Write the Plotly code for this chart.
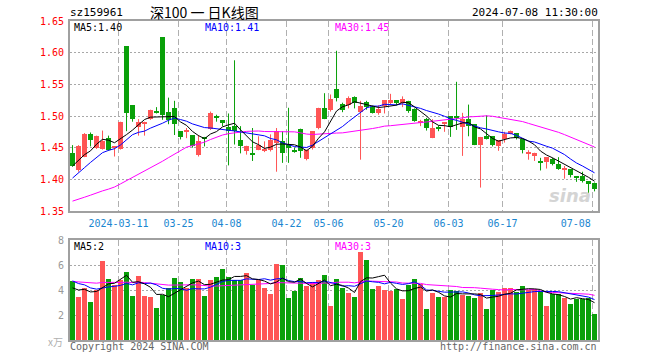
import plotly.graph_objects as go
import pandas as pd

# ---------------- data ----------------
holidays = ["2024-04-04", "2024-04-05", "2024-05-01", "2024-05-02", "2024-05-03", "2024-06-10"]
dates = [d.strftime("%Y-%m-%d") for d in pd.bdate_range("2024-02-28", "2024-07-08")
         if d.strftime("%Y-%m-%d") not in holidays]

opens = [1.442, 1.414, 1.436, 1.472, 1.449, 1.448, 1.465, 1.450, 1.448, 1.610,
         1.517, 1.482, 1.488, 1.495, 1.506, 1.624, 1.507, 1.513, 1.476, 1.475,
         1.470, 1.438, 1.467, 1.479, 1.500, 1.493, 1.482, 1.485, 1.462, 1.444,
         1.440, 1.447, 1.445, 1.446, 1.458, 1.460, 1.455, 1.446, 1.480, 1.432,
         1.449, 1.481, 1.513, 1.510, 1.542, 1.519, 1.517, 1.530, 1.507, 1.522,
         1.514, 1.504, 1.516, 1.520, 1.525, 1.520, 1.523, 1.511, 1.489, 1.496,
         1.466, 1.482, 1.488, 1.500, 1.499, 1.482, 1.496, 1.487, 1.454, 1.468,
         1.468, 1.453, 1.463, 1.472, 1.473, 1.463, 1.440, 1.437, 1.428, 1.428,
         1.432, 1.425, 1.415, 1.416, 1.404, 1.406, 1.397, 1.395]
highs = [1.454, 1.454, 1.473, 1.474, 1.469, 1.477, 1.469, 1.452, 1.491, 1.610,
         1.517, 1.495, 1.491, 1.510, 1.514, 1.624, 1.529, 1.524, 1.476, 1.481,
         1.470, 1.470, 1.467, 1.507, 1.502, 1.493, 1.504, 1.588, 1.484, 1.453,
         1.481, 1.468, 1.460, 1.471, 1.481, 1.476, 1.513, 1.450, 1.480, 1.447,
         1.476, 1.513, 1.536, 1.534, 1.603, 1.521, 1.531, 1.531, 1.524, 1.524,
         1.516, 1.517, 1.525, 1.535, 1.525, 1.531, 1.524, 1.512, 1.494, 1.497,
         1.495, 1.485, 1.490, 1.500, 1.554, 1.505, 1.518, 1.487, 1.467, 1.501,
         1.468, 1.462, 1.475, 1.477, 1.473, 1.463, 1.446, 1.442, 1.434, 1.435,
         1.434, 1.435, 1.421, 1.416, 1.404, 1.412, 1.397, 1.395]
lows = [1.420, 1.412, 1.435, 1.452, 1.448, 1.447, 1.445, 1.436, 1.447, 1.476,
        1.491, 1.469, 1.469, 1.494, 1.504, 1.494, 1.487, 1.470, 1.463, 1.465,
        1.450, 1.436, 1.452, 1.478, 1.491, 1.484, 1.422, 1.455, 1.441, 1.439,
        1.429, 1.446, 1.443, 1.444, 1.412, 1.426, 1.426, 1.442, 1.434, 1.430,
        1.447, 1.479, 1.495, 1.507, 1.523, 1.506, 1.512, 1.512, 1.431, 1.510,
        1.504, 1.502, 1.504, 1.519, 1.517, 1.514, 1.505, 1.491, 1.484, 1.477,
        1.465, 1.476, 1.475, 1.467, 1.478, 1.437, 1.468, 1.454, 1.387, 1.463,
        1.452, 1.445, 1.458, 1.471, 1.463, 1.441, 1.431, 1.429, 1.414, 1.417,
        1.422, 1.415, 1.401, 1.403, 1.396, 1.395, 1.377, 1.381]
closes = [1.421, 1.453, 1.472, 1.462, 1.469, 1.460, 1.446, 1.452, 1.491, 1.504,
          1.496, 1.490, 1.491, 1.510, 1.505, 1.501, 1.493, 1.487, 1.467, 1.478,
          1.453, 1.460, 1.463, 1.504, 1.497, 1.490, 1.476, 1.476, 1.452, 1.453,
          1.439, 1.454, 1.446, 1.462, 1.476, 1.441, 1.450, 1.444, 1.444, 1.447,
          1.476, 1.513, 1.495, 1.527, 1.528, 1.510, 1.528, 1.520, 1.516, 1.515,
          1.505, 1.511, 1.525, 1.525, 1.520, 1.527, 1.508, 1.492, 1.492, 1.481,
          1.481, 1.480, 1.490, 1.483, 1.497, 1.495, 1.484, 1.455, 1.467, 1.463,
          1.454, 1.462, 1.471, 1.477, 1.466, 1.446, 1.442, 1.442, 1.427, 1.435,
          1.424, 1.416, 1.416, 1.407, 1.403, 1.398, 1.392, 1.385]
volumes = [4.73, 3.45, 4.17, 3.05, 4.01, 6.34, 4.89, 4.41, 4.81, 5.45,
           3.53, 5.13, 3.53, 3.45, 2.57, 3.61, 4.17, 4.97, 4.65, 4.17,
           4.89, 4.89, 3.53, 4.81, 5.05, 5.70, 5.05, 4.81, 4.81, 5.37,
           4.41, 4.81, 4.17, 3.69, 6.10, 6.02, 3.37, 3.93, 4.97, 4.33,
           4.65, 4.81, 5.21, 2.73, 4.89, 4.17, 3.77, 3.45, 7.06, 6.42,
           4.09, 4.33, 4.01, 3.93, 4.09, 3.29, 4.41, 4.89, 4.49, 2.49,
           3.77, 3.45, 3.45, 4.01, 3.93, 3.61, 3.53, 3.37, 3.77, 2.49,
           4.01, 3.85, 4.17, 4.17, 3.85, 4.33, 4.01, 4.09, 3.93, 2.73,
           3.69, 3.69, 3.37, 2.89, 3.29, 3.29, 3.37, 2.09]

# history before the visible window (estimated so the moving averages start where the picture shows)
prior_closes = [1.372, 1.368, 1.365, 1.360, 1.366, 1.362, 1.352, 1.344, 1.350, 1.356,
                1.348, 1.342, 1.345, 1.347, 1.335, 1.322, 1.320, 1.300, 1.318, 1.376,
                1.378, 1.382, 1.380, 1.385, 1.390, 1.410, 1.425, 1.432, 1.417]
prior_volumes = [4.8, 4.5, 4.3, 5.1, 4.6, 4.2, 4.9, 5.3, 4.4, 4.7,
                 4.1, 4.5, 5.0, 4.8, 4.6, 5.4, 4.9, 3.9, 4.2, 4.9,
                 5.6, 5.2, 5.5, 5.0, 5.15, 4.3, 3.9, 4.1, 3.82]

tick_labels = ["2024-03-11", "03-25", "04-08", "04-22", "05-06", "05-20", "06-03", "06-17", "07-08"]
tick_dates = ["2024-03-11", "2024-03-25", "2024-04-08", "2024-04-22", "2024-05-06",
              "2024-05-20", "2024-06-03", "2024-06-17", "2024-07-08"]
price_ticks = [1.35, 1.40, 1.45, 1.50, 1.55, 1.60, 1.65]
vol_ticks = [2, 4, 6, 8]

# ---------------- styling ----------------
W, H = 660, 360
RED, GREEN = "#ff5555", "#0aa00a"
MONO = "DejaVu Sans Mono"
L_PX, R_PX = 70, 598


def px_x(p):
    return p / W


def px_y(p):
    return 1 - p / H


n = len(dates)
x = list(range(n))
up = [c >= o for o, c in zip(opens, closes)]
colors = [RED if u else GREEN for u in up]
body_base = [min(o, c) for o, c in zip(opens, closes)]
body_h = [max(abs(c - o), 0.0016) for o, c in zip(opens, closes)]


def ma(prior, vals, k):
    s = pd.Series(prior + vals)
    return s.rolling(k).mean().iloc[len(prior):].tolist()


fig = go.Figure()

# wicks
for col, flag in ((RED, True), (GREEN, False)):
    wx, wy = [], []
    for i in x:
        if up[i] == flag:
            wx += [i, i, None]
            wy += [lows[i], highs[i], None]
    fig.add_trace(go.Scatter(x=wx, y=wy, mode="lines", line=dict(color=col, width=1),
                             hoverinfo="skip", xaxis="x", yaxis="y"))

# bodies
fig.add_trace(go.Bar(x=x, y=body_h, base=body_base, width=0.82, marker=dict(color=colors, line=dict(width=0)),
                     xaxis="x", yaxis="y"))

# price MAs
for k, col in ((30, "#ff00ff"), (10, "#0000ff"), (5, "#000000")):
    fig.add_trace(go.Scatter(x=x, y=ma(prior_closes, closes, k), mode="lines",
                             line=dict(color=col, width=1), xaxis="x", yaxis="y"))

# volume
fig.add_trace(go.Bar(x=x, y=volumes, width=0.82, marker=dict(color=colors, line=dict(width=0)),
                     xaxis="x2", yaxis="y2"))
for k, col in ((30, "#ff00ff"), (10, "#0000ff"), (5, "#000000")):
    fig.add_trace(go.Scatter(x=x, y=ma(prior_volumes, volumes, k), mode="lines",
                             line=dict(color=col, width=1), xaxis="x2", yaxis="y2"))

idx = {d: i for i, d in enumerate(dates)}
grid_pos = [idx[d] - 0.33 for d in tick_dates]
label_pos = grid_pos[:-1] + [grid_pos[-1] - 2.8]

xrange = [-0.42, n - 0.42]
border = dict(showline=True, mirror=True, linecolor="#a0a0a0", linewidth=2, zeroline=False,
              automargin=False)
minor = dict(tickmode="array", tickvals=grid_pos, showgrid=True, griddash="6px,3px",
             gridcolor="#b0b0b0", gridwidth=1, ticks="")

fig.update_layout(
    width=W, height=H, margin=dict(l=0, r=0, t=0, b=0, pad=0, autoexpand=False),
    paper_bgcolor="white", plot_bgcolor="white", showlegend=False, bargap=0,
    xaxis=dict(domain=[px_x(L_PX), px_x(R_PX)], range=xrange, anchor="y",
               tickmode="array", tickvals=label_pos, ticktext=tick_labels,
               tickfont=dict(family=MONO, size=10, color="#1a86d0"), ticks="",
               ticklabelstandoff=2,
               showgrid=False, minor=minor, **border),
    yaxis=dict(domain=[px_y(211), px_y(21)], range=[1.35, 1.65], anchor="x",
               tickmode="array", tickvals=price_ticks, ticktext=[f"{v:.2f}" for v in price_ticks],
               tickfont=dict(family=MONO, size=10, color="#ff0000"), ticks="",
               ticklabelstandoff=2,
               showgrid=True, griddash="2px,2px", gridcolor="#a8a8a8", gridwidth=1, **border),
    xaxis2=dict(domain=[px_x(L_PX), px_x(R_PX)], range=xrange, anchor="y2",
                showticklabels=False, ticks="", tickmode="array", tickvals=label_pos,
                showgrid=False, minor=minor, **border),
    yaxis2=dict(domain=[px_y(340), px_y(240)], range=[0, 8], anchor="x2",
                tickmode="array", tickvals=vol_ticks, ticktext=[str(v) for v in vol_ticks],
                tickfont=dict(family=MONO, size=10, color="#999999"), ticks="",
                ticklabelstandoff=2,
                showgrid=True, griddash="2px,2px", gridcolor="#a8a8a8", gridwidth=1, **border),
)


def note(text, xp, yp, anchor="left", color="#000", size=10, family=MONO, **kw):
    fig.add_annotation(text=text, x=px_x(xp), y=px_y(yp), xref="paper", yref="paper",
                       xanchor=anchor, yanchor="middle", showarrow=False, borderpad=0,
                       font=dict(family=family, size=size, color=color, **kw))


note("sz159961", 69, 13, size=11)
note("深100 一 日K线图", 204, 12, anchor="center", size=14, family="Noto Sans CJK SC")
note("2024-07-08 11:30:00", 599, 13, anchor="right", size=11)
note("MA5:1.40", 73, 27.5)
note("MA10:1.41", 204, 27.5, color="#0000ff")
note("MA30:1.45", 334, 27.5, color="#ff00ff")
note("MA5:2", 73, 246)
note("MA10:3", 204, 246, color="#0000ff")
note("MA30:3", 334, 246, color="#ff00ff")
note("x万", 47, 341, color="#b0b0b0", size=10, family="Noto Sans CJK SC")
note("Copyright 2024 SINA.COM", 69, 346, color="#666666")
note("http://finance.sina.com.cn", 598, 346, anchor="right", color="#666666")
note("sina", 570, 196, anchor="center", color="#d4d4d4", size=18, family="DejaVu Sans",
     weight="bold", style="italic")

fig.write_html("out.html", config={"displayModeBar": False},
               post_script="document.body.style.margin='0px';document.body.style.padding='0px';")
